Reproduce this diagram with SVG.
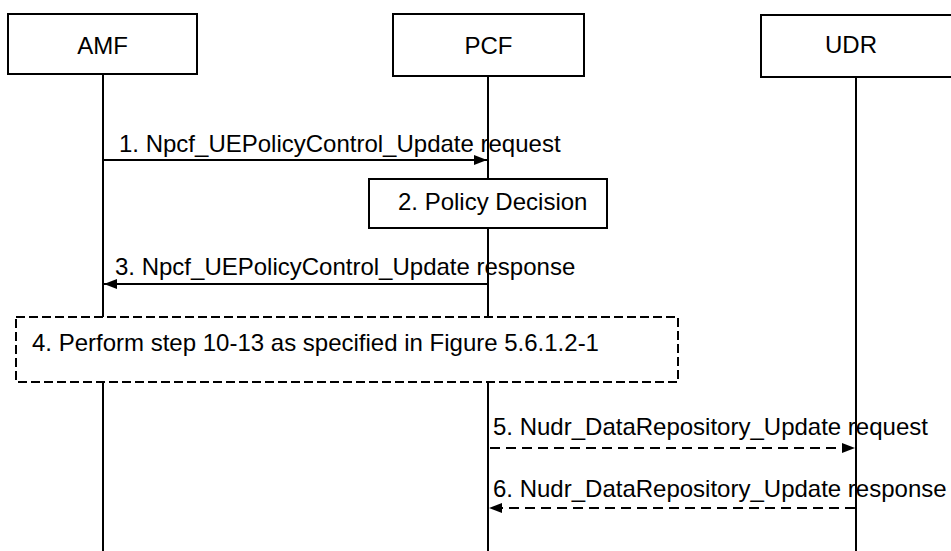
<svg xmlns="http://www.w3.org/2000/svg" width="951" height="551" viewBox="0 0 951 551">
<style>
.box{fill:#fff;stroke:#000;stroke-width:2}
.life{stroke:#000;stroke-width:2;fill:none}
.msg{stroke:#000;stroke-width:2;fill:none}
.dash{stroke-dasharray:10 6}
.dbox{fill:#fff;stroke:#000;stroke-width:2;stroke-dasharray:9 4}
.t{font-family:"Liberation Sans",Arial,sans-serif;font-size:24px;fill:#000}
.c{text-anchor:middle}
</style>
<defs>
<marker id="ah" markerUnits="userSpaceOnUse" markerWidth="14" markerHeight="10" refX="13" refY="5" orient="auto">
<path d="M0,0 L13,5 L0,10 Z" fill="#000"/>
</marker>
</defs>
<g id="lifelines">
<line class="life" x1="103" y1="74" x2="103" y2="551"/>
<line class="life" x1="488" y1="76" x2="488" y2="551"/>
<line class="life" x1="856" y1="77" x2="856" y2="551"/>
</g>
<g id="AMF">
<rect class="box" x="8" y="14" width="189" height="60"/>
<text class="t c" x="102.5" y="54">AMF</text>
</g>
<g id="PCF">
<rect class="box" x="393" y="14" width="191" height="62"/>
<text class="t c" x="488.5" y="54">PCF</text>
</g>
<g id="UDR">
<rect class="box" x="761" y="15" width="192" height="62"/>
<text class="t c" x="851" y="53">UDR</text>
</g>
<g id="step2">
<rect class="box" x="369" y="179" width="238" height="49"/>
<text class="t" x="398" y="210">2. Policy Decision</text>
</g>
<g id="step4">
<rect class="dbox" x="16" y="317" width="662" height="65"/>
<text class="t" x="32" y="351">4. Perform step 10-13 as specified in Figure 5.6.1.2-1</text>
</g>
<g id="connectors">
<line class="msg" x1="104" y1="160" x2="487" y2="160" marker-end="url(#ah)"/>
<line class="msg" x1="487" y1="284" x2="104" y2="284" marker-end="url(#ah)"/>
<line class="msg dash" x1="490" y1="448" x2="855" y2="448" marker-end="url(#ah)"/>
<line class="msg dash" x1="855" y1="508" x2="489" y2="508" marker-end="url(#ah)"/>
</g>
<g id="labels">
<text class="t" x="119" y="152">1. Npcf_UEPolicyControl_Update request</text>
<text class="t" x="115" y="275">3. Npcf_UEPolicyControl_Update response</text>
<text class="t" x="493" y="435">5. Nudr_DataRepository_Update request</text>
<text class="t" x="493" y="497">6. Nudr_DataRepository_Update response</text>
</g>
</svg>
